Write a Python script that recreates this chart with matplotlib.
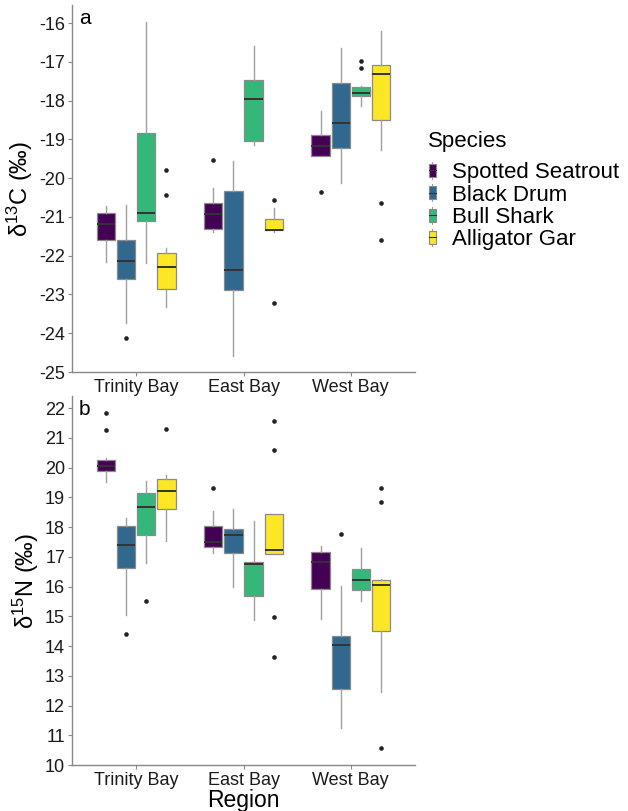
import matplotlib
matplotlib.use("Agg")
import matplotlib.pyplot as plt
from matplotlib.patches import Patch, Rectangle
from matplotlib.lines import Line2D
from matplotlib.legend_handler import HandlerBase

plt.rcParams['font.family'] = ['Liberation Sans', 'DejaVu Sans']
plt.rcParams['mathtext.fontset'] = 'custom'
plt.rcParams['mathtext.rm'] = 'Liberation Sans'

regions = ["Trinity Bay", "East Bay", "West Bay"]
species = ["Spotted Seatrout", "Black Drum", "Bull Shark", "Alligator Gar"]
colors = ["#440154", "#31688E", "#35B779", "#FDE725"]

# d13C: per region, per species  [whislo, q1, med, q3, whishi]
c_whislo = [[-22.16, -23.73, -22.18, -23.32],
            [-21.40, -24.59, -19.15, -21.40],
            [-19.42, -20.12, -18.14, -19.26]]
c_q1 = [[-21.60, -22.60, -21.10, -22.86],
        [-21.30, -22.89, -19.04, -21.34],
        [-19.42, -19.23, -17.88, -18.50]]
c_med = [[-21.19, -22.14, -20.91, -22.29],
         [-20.93, -22.36, -17.96, -21.34],
         [-19.16, -18.58, -17.79, -17.31]]
c_q3 = [[-20.91, -21.60, -18.82, -21.93],
        [-20.64, -20.32, -17.47, -21.06],
        [-18.89, -17.55, -17.65, -17.09]]
c_whishi = [[-20.72, -20.69, -15.96, -21.81],
            [-20.24, -19.56, -16.60, -20.78],
            [-18.26, -16.63, -17.62, -16.20]]
c_fliers = [[[], [-24.13], [], [-19.80, -20.42]],
            [[-19.53], [], [], [-20.56, -23.23]],
            [[-20.35], [], [-16.98, -17.15], [-20.63, -21.59]]]

# d15N
n_whislo = [[19.51, 15.04, 16.79, 17.54],
            [17.13, 16.00, 14.88, 17.10],
            [14.91, 11.23, 15.53, 12.47]]
n_q1 = [[19.88, 16.64, 17.72, 18.61],
        [17.33, 17.13, 15.67, 17.10],
        [15.92, 12.56, 15.90, 14.49]]
n_med = [[20.04, 17.41, 18.67, 19.22],
         [17.51, 17.72, 16.75, 17.22],
         [16.84, 14.02, 16.22, 16.07]]
n_q3 = [[20.26, 18.03, 19.14, 19.62],
        [18.05, 17.94, 16.83, 18.43],
        [17.16, 14.34, 16.58, 16.21]]
n_whishi = [[20.31, 18.32, 19.56, 19.76],
            [18.55, 18.60, 18.21, 18.43],
            [17.38, 16.02, 17.29, 16.25]]
n_fliers = [[[21.83, 21.28], [14.42], [15.50], [21.30]],
            [[19.30], [], [], [21.57, 20.59, 14.99, 13.62]],
            [[], [17.76], [], [19.33, 18.84, 10.57]]]

W, H = 628, 811
fig = plt.figure(figsize=(W / 100, H / 100), dpi=100)

def axes_px(left, top, right, bottom):
    return fig.add_axes([left / W, 1 - bottom / H, (right - left) / W, (bottom - top) / H])

ax1 = axes_px(72, 5, 415, 372)
ax2 = axes_px(72, 396, 415, 765)

edge_c = "#8a8a8a"
whisk_c = "#a0a0a0"
med_c = "#333333"
dodge = 0.1875
bw = 0.17

def draw(ax, wl, q1, md, q3, wh, fl):
    for i in range(len(regions)):
        for j in range(len(species)):
            st = dict(whislo=wl[i][j], q1=q1[i][j], med=md[i][j], q3=q3[i][j],
                      whishi=wh[i][j], fliers=fl[i][j])
            pos = i + 1 + (j - 1.5) * dodge
            ax.bxp([st], positions=[pos], widths=bw, patch_artist=True, showcaps=False,
                   boxprops=dict(facecolor=colors[j], edgecolor=edge_c, linewidth=0.9),
                   whiskerprops=dict(color=whisk_c, linewidth=1.0),
                   medianprops=dict(color=med_c, linewidth=1.4),
                   flierprops=dict(marker='o', markersize=2.3, markerfacecolor='#222222',
                                   markeredgecolor='#222222', linestyle='none'),
                   manage_ticks=False, zorder=2)
    ax.set_xlim(0.4, 3.6)
    ax.set_xticks([1, 2, 3])
    ax.set_xticklabels(regions)
    for s in ['top', 'right']:
        ax.spines[s].set_visible(False)
    for s in ['left', 'bottom']:
        ax.spines[s].set_color('#888888')
        ax.spines[s].set_linewidth(1.0)
    ax.tick_params(axis='both', labelsize=13, colors='#888888', labelcolor='#1a1a1a',
                   length=3, width=0.8, pad=2)

draw(ax1, c_whislo, c_q1, c_med, c_q3, c_whishi, c_fliers)
draw(ax2, n_whislo, n_q1, n_med, n_q3, n_whishi, n_fliers)

ax1.set_ylim(-25, -15.53)
ax1.set_yticks(list(range(-25, -15)))
ax1.set_yticklabels([str(v) for v in range(-25, -15)])
ax1.set_ylabel(r"$\mathregular{\delta^{13}}$C (‰)", fontsize=17, labelpad=3)

ax2.set_ylim(10, 22.41)
ax2.set_yticks(list(range(10, 23)))
ax2.set_ylabel(r"$\mathregular{\delta^{15}}$N (‰)", fontsize=17, labelpad=3)
ax2.set_xlabel("Region", fontsize=16.5, labelpad=0)

ax1.text(0.02, 0.99, "a", transform=ax1.transAxes, fontsize=15, va='top', ha='left')
ax2.text(0.02, 0.99, "b", transform=ax2.transAxes, fontsize=15, va='top', ha='left')


class BoxHandler(HandlerBase):
    def __init__(self, color):
        super().__init__()
        self.color = color

    def create_artists(self, legend, orig_handle, xdescent, ydescent, width, height, fontsize, trans):
        cx = width / 2 - xdescent
        bh = height * 0.75
        by = -ydescent + (height - bh) / 2
        bwid = width * 0.8
        rect = Rectangle((cx - bwid / 2, by), bwid, bh, facecolor=self.color,
                         edgecolor=edge_c, linewidth=0.8, transform=trans)
        wt = Line2D([cx, cx], [by + bh, -ydescent + height], color=whisk_c, lw=0.8, transform=trans)
        wb = Line2D([cx, cx], [-ydescent, by], color=whisk_c, lw=0.8, transform=trans)
        md = Line2D([cx - bwid / 2, cx + bwid / 2], [by + bh / 2, by + bh / 2], color=med_c,
                    lw=0.8, transform=trans)
        return [wt, wb, rect, md]


fig.text(428 / W, 1 - 142 / H, "Species", fontsize=16, ha='left', va='center')
handles = [Patch(facecolor=c) for c in colors]
hmap = {h: BoxHandler(c) for h, c in zip(handles, colors)}
leg = fig.legend(handles, species, handler_map=hmap, loc='upper left',
                 bbox_to_anchor=(428 / W, 1 - 162 / H), frameon=False, fontsize=16,
                 handlelength=0.4, handleheight=0.8,
                 handletextpad=0.7, labelspacing=0.05, borderaxespad=0, borderpad=0)

fig.savefig("out.png", dpi=100)
